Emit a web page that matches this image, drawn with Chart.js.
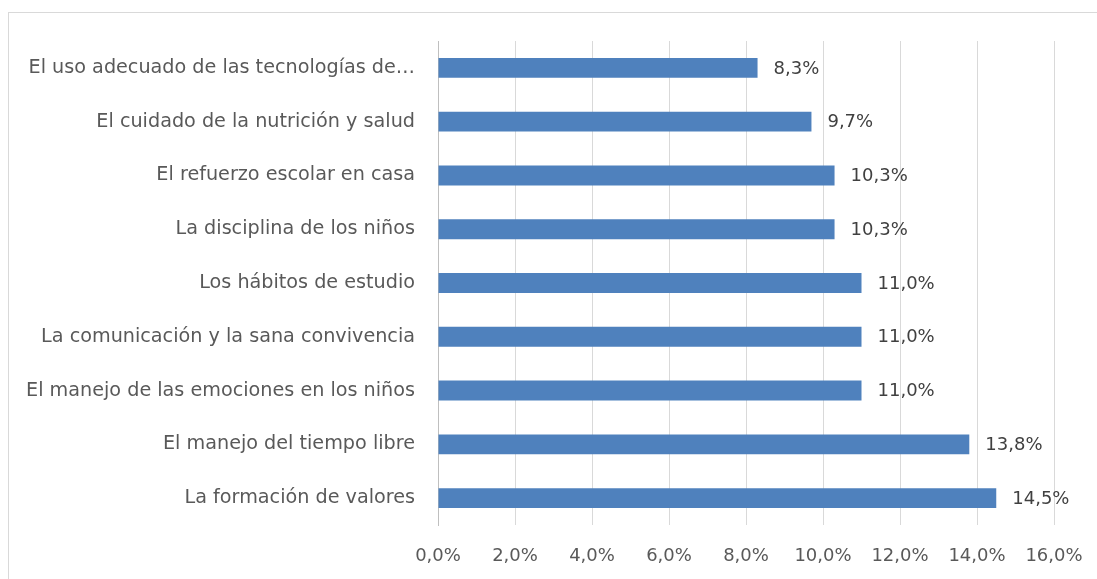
<!DOCTYPE html>
<html><head><meta charset="utf-8">
<script src="https://cdn.jsdelivr.net/npm/chart.js@4"></script>
<style>
html,body{margin:0;padding:0;background:#fff;}
#wrap{position:relative;width:1097px;height:579px;overflow:hidden;}
#frame{position:absolute;left:8px;top:12px;width:1200px;height:700px;border:1px solid #d9d9d9;box-sizing:border-box;}
canvas{position:absolute;left:0;top:0;}
</style></head>
<body><div id="wrap"><div id="frame"></div><canvas id="c" width="1097" height="579"></canvas></div>
<script>
const categories = [
  "El uso adecuado de las tecnologías de…",
  "El cuidado de la nutrición y salud",
  "El refuerzo escolar en casa",
  "La disciplina de los niños",
  "Los hábitos de estudio",
  "La comunicación y la sana convivencia",
  "El manejo de las emociones en los niños",
  "El manejo del tiempo libre",
  "La formación de valores"
];
const values = [8.3, 9.7, 10.3, 10.3, 11.0, 11.0, 11.0, 13.8, 14.5];
const xTicks = [0, 2, 4, 6, 8, 10, 12, 14, 16];

const FONT = "'DejaVu Sans', sans-serif";
const fmt = v => v.toFixed(1).replace('.', ',') + '%';

const labelPlugin = {
  id: 'valueLabels',
  afterDatasetsDraw(chart) {
    const ctx = chart.ctx;
    const meta = chart.getDatasetMeta(0);
    ctx.save();
    ctx.font = "18px " + FONT;
    ctx.fillStyle = '#404040';
    ctx.textAlign = 'left';
    ctx.textBaseline = 'middle';
    meta.data.forEach((bar, i) => {
      ctx.fillText(fmt(values[i]), bar.x + 16, bar.y + 1);
    });
    ctx.restore();
  }
};

new Chart(document.getElementById('c'), {
  type: 'bar',
  data: {
    labels: categories,
    datasets: [{
      data: values,
      backgroundColor: '#4f81bd',
      borderWidth: 0,
      categoryPercentage: 0.37,
      barPercentage: 1.0
    }]
  },
  options: {
    indexAxis: 'y',
    responsive: false,
    animation: false,
    layout: { padding: { left: 0, right: 43, top: 41, bottom: 0 } },
    plugins: { legend: { display: false }, tooltip: { enabled: false } },
    scales: {
      x: {
        min: 0, max: 16,
        afterBuildTicks: s => { s.ticks = xTicks.map(v => ({ value: v })); },
        afterFit: s => { s.height = 54; s.paddingLeft = 0; s.paddingRight = 0; },
        grid: { color: '#d9d9d9', lineWidth: 1, drawTicks: false },
        border: { display: false },
        ticks: {
          padding: 21,
          color: '#595959',
          font: { family: FONT, size: 18 },
          callback: v => fmt(v)
        }
      },
      y: {
        afterFit: s => { s.width = 438; },
        grid: { display: false, drawTicks: false },
        border: { display: true, color: '#bfbfbf', width: 1 },
        ticks: {
          padding: 23,
          color: '#595959',
          font: { family: FONT, size: 19.2 },
          autoSkip: false
        }
      }
    }
  },
  plugins: [labelPlugin]
});
</script></body></html>
